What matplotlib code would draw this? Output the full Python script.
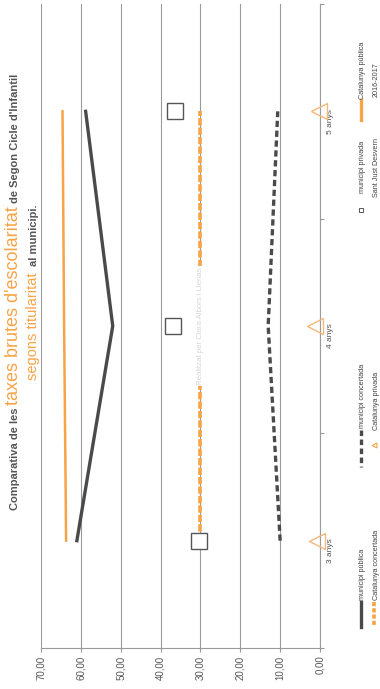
import matplotlib
matplotlib.use("Agg")
import matplotlib.pyplot as plt
from matplotlib.lines import Line2D
from matplotlib.ticker import FixedLocator, FuncFormatter
from matplotlib.transforms import IdentityTransform

plt.rcParams['font.family'] = ['Liberation Sans', 'DejaVu Sans']
plt.rcParams['lines.scale_dashes'] = False

W, H, DPI = 380, 689, 100

# taxes brutes d'escolaritat (%) per edat i titularitat
edats = ["3 anys", "4 anys", "5 anys"]
municipi_publica = [61.0, 52.0, 58.8]
municipi_concertada = [10.0, 13.0, 10.6]
municipi_privada = [30.4, 36.8, 36.5]
catalunya_publica = [63.7, 64.2, 64.6]
catalunya_concertada = [30.0, 30.0, 30.0]
catalunya_privada = [0.8, 1.3, 0.2]
valors_eix = [0, 10, 20, 30, 40, 50, 60, 70]

GRIS = "#4a4a4a"
GRIS_TXT = "#555555"
TARONJA = "#f7a347"
TARONJA_CLAR = "#f6b77a"
GRIS_EIX = "#9a9a9a"

fig = plt.figure(figsize=(W / DPI, H / DPI), dpi=DPI)
fig.patch.set_facecolor("white")
ax = fig.add_axes([41 / W, 1 - 648 / H, (320 - 41) / W, (648 - 4) / H])

pos = list(range(len(edats)))

# el grafic va girat: valors a l'eix horitzontal (invertit), edats en vertical
ax.plot(catalunya_publica, pos, color=TARONJA, lw=1.8, zorder=3)
ax.plot(municipi_publica, pos, color=GRIS, lw=2.4, zorder=3)
ax.plot(catalunya_concertada, pos, color=TARONJA, lw=2.6, dashes=(5.3, 1.5), zorder=3)
ax.plot(municipi_concertada, pos, color=GRIS, lw=2.4, dashes=(4.5, 2.6), zorder=3)
ax.plot(municipi_privada, pos, ls="none", marker="s", ms=11, mfc="white",
        mec=GRIS_TXT, mew=1.0, zorder=4)
ax.plot(catalunya_privada, pos, ls="none", marker="<", ms=11, mfc="none",
        mec=TARONJA_CLAR, mew=1.0, zorder=4, clip_on=False)

ax.text(30, 1.0, "Realitzat per Clara Albors i Llenas", rotation=90, ha="center",
        va="center", fontsize=5.6, color="#d6d6d6", zorder=5,
        bbox=dict(facecolor="white", edgecolor="none", pad=0.6))

ax.set_xlim(70, 0)
ax.set_ylim(-0.5, len(edats) - 0.5)

for s in ["left", "top"]:
    ax.spines[s].set_visible(False)
for s in ["right", "bottom"]:
    ax.spines[s].set_color(GRIS_EIX)
    ax.spines[s].set_linewidth(0.8)

ax.xaxis.set_major_locator(FixedLocator(valors_eix))
ax.xaxis.set_major_formatter(FuncFormatter(lambda v, p: f"{v:.2f}".replace(".", ",")))
ax.tick_params(axis="x", direction="out", length=3, color=GRIS_EIX, width=0.8,
               labelsize=7, labelcolor=GRIS_TXT, labelrotation=90, pad=2.5)
ax.grid(axis="x", color=GRIS_EIX, lw=0.8, zorder=0)

ax.yaxis.tick_right()
ax.yaxis.set_major_locator(FixedLocator([p - 0.5 for p in pos] + [pos[-1] + 0.5]))
ax.yaxis.set_minor_locator(FixedLocator(pos))
ax.yaxis.set_major_formatter(FuncFormatter(lambda v, p: ""))
ax.yaxis.set_minor_formatter(FuncFormatter(lambda v, p: edats[int(round(v))]))
ax.tick_params(axis="y", which="major", direction="out", length=3, color=GRIS_EIX, width=0.8)
ax.tick_params(axis="y", which="minor", length=0, labelsize=6, labelcolor=GRIS_TXT,
               labelrotation=90, pad=5)

ren = fig.canvas.get_renderer()


def linia_titol(peces, x_base, y_centre, espai=3):
    # escriu trossos de text girats, un darrere l'altre cap amunt
    textos = []
    y = 0.0
    for s, color, mida, pes in peces:
        t = fig.text(x_base, y, s, color=color, fontsize=mida, fontweight=pes,
                     rotation=90, rotation_mode="anchor", ha="left", va="baseline",
                     transform=IdentityTransform())
        bb = t.get_window_extent(ren)
        textos.append(t)
        y = bb.y1 + espai
    total = y - espai
    desp = (H - y_centre) - total / 2
    for t in textos:
        x0, y0 = t.get_position()
        t.set_position((x0, y0 + desp))


linia_titol([("Comparativa de les", GRIS_TXT, 8, "bold"),
             ("taxes brutes d'escolaritat", TARONJA, 13, "normal"),
             ("de Segon Cicle d'Infantil", GRIS_TXT, 8, "bold")],
            18.5, 292)
linia_titol([("segons titularitat", TARONJA, 10.5, "normal"),
             ("al municipi.", GRIS_TXT, 8, "bold")],
            37, 292, espai=7)


def px(x, y):
    return x, H - y


def mostra_linia(x, y0, y1, **kw):
    (xa, ya), (xb, yb) = px(x, y0), px(x, y1)
    fig.add_artist(Line2D([xa, xb], [ya, yb], transform=IdentityTransform(), **kw))


def mostra_marca(x, y, **kw):
    xa, ya = px(x, y)
    fig.add_artist(Line2D([xa], [ya], transform=IdentityTransform(), ls="none", **kw))


def etiqueta(x, y, s):
    xa, ya = px(x, y)
    fig.text(xa, ya, s, rotation=90, ha="center", va="bottom", fontsize=5.2,
             color="#444444", transform=IdentityTransform())


# llegenda
mostra_linia(361, 602, 627, color=GRIS, lw=2.4)
etiqueta(363, 600, "municipi pública")
mostra_linia(374, 602, 627, color=TARONJA, lw=2.6, dashes=(3, 1.5))
etiqueta(376, 600, "Catalunya concertada")
mostra_linia(361, 430, 467, color=GRIS, lw=2.4, dashes=(4, 2.5))
etiqueta(363, 428, "municipi concertada")
mostra_marca(374, 445, marker="<", ms=3.5, mfc="none", mec=TARONJA, mew=0.8)
etiqueta(376, 430, "Catalunya privada")
mostra_marca(361, 210, marker="s", ms=3, mfc="white", mec=GRIS_TXT, mew=0.7)
etiqueta(363, 193, "municipi privada")
etiqueta(376, 197, "Sant Just Desvern")
mostra_linia(361, 100, 120, color=TARONJA, lw=2.4)
etiqueta(363, 99, "Catalunya pública")
etiqueta(376, 97, "2016-2017")

fig.savefig("out.png", dpi=DPI, facecolor="white")
